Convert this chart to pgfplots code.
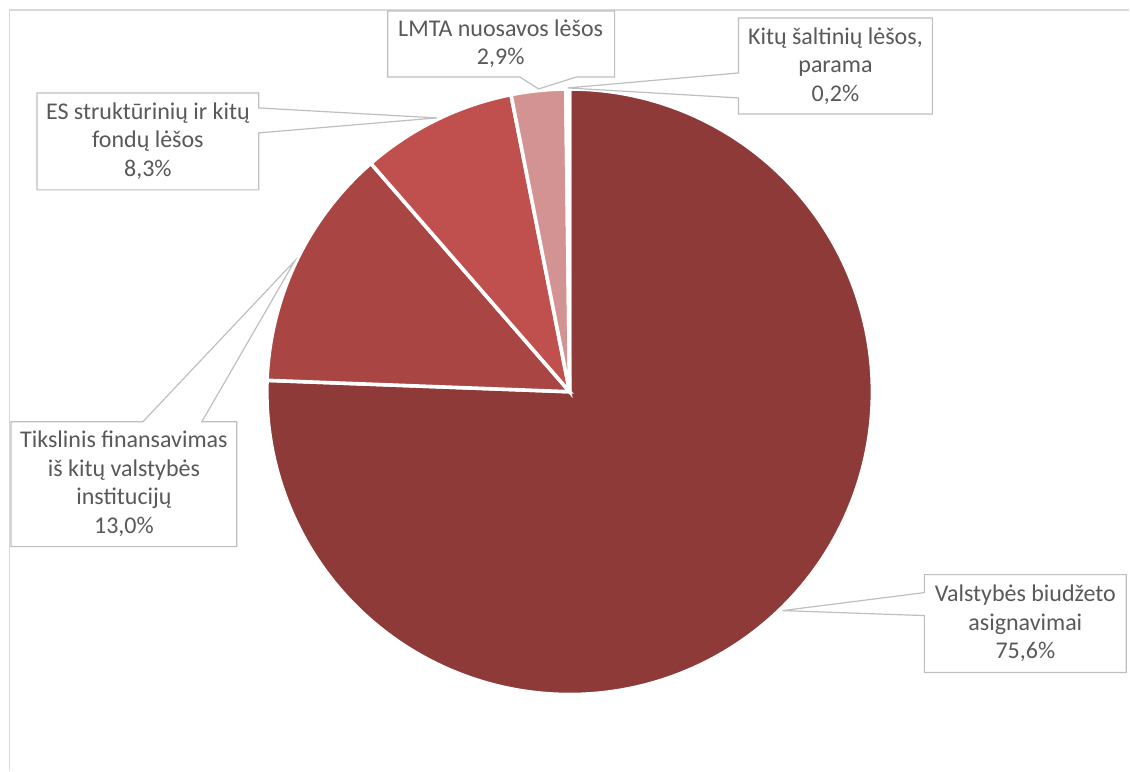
\documentclass[border=0pt]{standalone}
\usepackage{fontspec}
\setmainfont{Carlito}
\usepackage{pgfplots}
\pgfplotsset{compat=1.18}
\definecolor{cA}{HTML}{8E3A38}
\definecolor{cB}{HTML}{A94543}
\definecolor{cC}{HTML}{C0504D}
\definecolor{cD}{HTML}{D39392}
\definecolor{cE}{HTML}{E6B9B8}
\definecolor{lblgray}{HTML}{595959}
\definecolor{boxgray}{HTML}{BFBFBF}
\definecolor{framegray}{HTML}{D9D9D9}
% shares in percent
\def\pA{75.6}
\def\pB{13.0}
\def\pC{8.3}
\def\pD{2.9}
\def\pE{0.2}
\tikzset{lbl/.style={align=center, text=lblgray, font=\fontsize{12}{14.25}\selectfont}}
\begin{document}
\begin{tikzpicture}
\pgfmathsetmacro{\aA}{90}
\pgfmathsetmacro{\aB}{\aA-3.6*\pA}
\pgfmathsetmacro{\aC}{\aB-3.6*\pB}
\pgfmathsetmacro{\aD}{\aC-3.6*\pC}
\pgfmathsetmacro{\aE}{\aD-3.6*\pD}
\pgfmathsetmacro{\aF}{\aE-3.6*\pE}
\begin{axis}[
  width=565pt, height=385.5pt, scale only axis,
  xmin=0, xmax=1130, ymin=0, ymax=771, y dir=reverse,
  hide axis, clip=false,
]
% full canvas
\addplot[draw=none] coordinates {(0,0) (1130,771)};
% frame
\addplot[framegray, line width=0.75pt] coordinates {(9.5,771) (9.5,10) (1130,10)};
% slices
\addplot[fill=cA, draw=white, line width=1.8pt, domain=\aB:\aA, samples=200, variable=\t]
  ({570+303*cos(t)},{392-303*sin(t)}) -- (axis cs:570,392) -- cycle;
\addplot[fill=cB, draw=white, line width=1.8pt, domain=\aC:\aB, samples=60, variable=\t]
  ({570+303*cos(t)},{392-303*sin(t)}) -- (axis cs:570,392) -- cycle;
\addplot[fill=cC, draw=white, line width=1.8pt, domain=\aD:\aC, samples=50, variable=\t]
  ({570+303*cos(t)},{392-303*sin(t)}) -- (axis cs:570,392) -- cycle;
\addplot[fill=cD, draw=white, line width=1.8pt, domain=\aE:\aD, samples=20, variable=\t]
  ({570+303*cos(t)},{392-303*sin(t)}) -- (axis cs:570,392) -- cycle;
\addplot[fill=cE, draw=white, line width=1.8pt, domain=\aF:\aE, samples=5, variable=\t]
  ({570+303*cos(t)},{392-303*sin(t)}) -- (axis cs:570,392) -- cycle;
% callouts
\draw[boxgray, fill=white, line width=0.6pt] (axis cs:388,11) -- (axis cs:615,11) -- (axis cs:615,77) -- (axis cs:577,77) -- (axis cs:539,89) -- (axis cs:520,77) -- (axis cs:388,77) -- cycle;
\node[lbl] at (axis cs:501,44) {LMTA nuosavos lėšos\\2,9\%};
\draw[boxgray, fill=white, line width=0.6pt] (axis cs:739,18) -- (axis cs:933,18) -- (axis cs:933,114) -- (axis cs:739,114) -- (axis cs:739,98) -- (axis cs:568,88) -- (axis cs:739,73) -- cycle;
\node[lbl] at (axis cs:836,66) {Kitų šaltinių lėšos,\\parama\\0,2\%};
\draw[boxgray, fill=white, line width=0.6pt] (axis cs:37,93) -- (axis cs:259,93) -- (axis cs:259,108) -- (axis cs:437,118) -- (axis cs:259,133) -- (axis cs:259,190) -- (axis cs:37,190) -- cycle;
\node[lbl] at (axis cs:148,141) {ES struktūrinių ir kitų\\fondų lėšos\\8,3\%};
\draw[boxgray, fill=white, line width=0.6pt] (axis cs:11,422) -- (axis cs:143,422) -- (axis cs:295,261) -- (axis cs:202,422) -- (axis cs:237,422) -- (axis cs:237,547) -- (axis cs:11,547) -- cycle;
\node[lbl] at (axis cs:124,484) {Tikslinis finansavimas\\iš kitų valstybės\\institucijų\\13,0\%};
\draw[boxgray, fill=white, line width=0.6pt] (axis cs:925,575) -- (axis cs:1127,575) -- (axis cs:1127,673) -- (axis cs:925,673) -- (axis cs:925,616) -- (axis cs:783,611) -- (axis cs:925,593) -- cycle;
\node[lbl] at (axis cs:1026,624) {Valstybės biudžeto\\asignavimai\\75,6\%};
\end{axis}
\end{tikzpicture}
\end{document}
